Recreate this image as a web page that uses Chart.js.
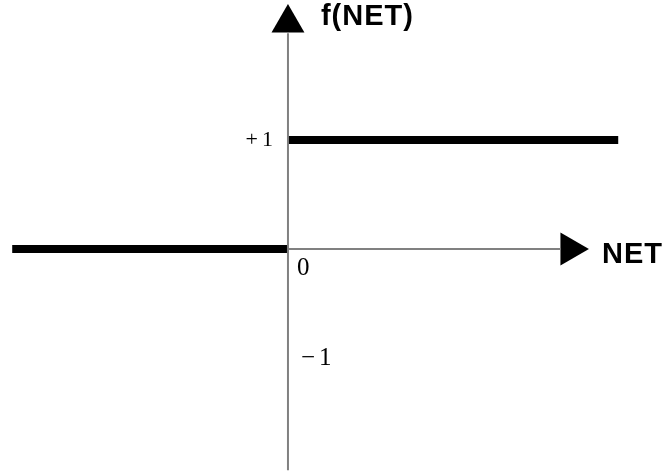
<!DOCTYPE html>
<html>
<head>
<meta charset="utf-8">
<title>f(NET) step function</title>
<script src="https://cdn.jsdelivr.net/npm/chart.js@4/dist/chart.umd.min.js"></script>
<style>
  html, body { margin: 0; padding: 0; background: #ffffff; }
  canvas { display: block; }
</style>
</head>
<body>
<canvas id="stepChart" width="664" height="473"></canvas>
<script>
/* step function f(NET): 0 for NET < 0, +1 for NET > 0 */

// ── Data (NET units on x, f(NET) on y) ───────────────────────────────────
const lowNet   = [-2.53, 0];
const lowF     = [0, 0];
const highNet  = [0, 3.03];
const highF    = [1, 1];

// axes and their arrow heads
const hAxisNet = [0, 2.50];
const hAxisF   = [0, 0];
const vAxisNet = [0, 0];
const vAxisF   = [-2.03, 1.98];
const arrowNet = [0, 2.587];
const arrowF   = [2.073, 0];
const arrowRot = [0, 90];

// tick labels on the f(NET) axis
const tickValues = [1, 0, -1];
const tickLabels = ['+1', '0', '\u22121'];
const axisNames  = ['NET', 'f(NET)'];

// visible window
const netMin = -2.642, netMax = 3.450;
const fMin   = -2.055, fMax   = 2.284;

const toPoints = (xs, ys) => xs.map((x, i) => ({ x: x, y: ys[i] }));

// ── Label plugin ─────────────────────────────────────────────────────────
const tickStyle = [
    { font: '22px "Liberation Serif"', align: 'right', dx: -11, dy: 0,  spacing: '4px' },
    { font: '25px "Liberation Serif"', align: 'left',  dx: 9,   dy: 19, spacing: '0px' },
    { font: '25px "Liberation Serif"', align: 'left',  dx: 13,  dy: 0,  spacing: '4px' }
];

const labelPlugin = {
    id: 'stepLabels',
    afterDatasetsDraw(chart) {
        const { ctx, scales: { x, y } } = chart;
        const x0 = x.getPixelForValue(0);
        const y0 = y.getPixelForValue(0);
        ctx.save();
        ctx.fillStyle = '#000000';
        ctx.textBaseline = 'middle';
        tickValues.forEach((v, i) => {
            const s = tickStyle[i];
            ctx.font = s.font;
            ctx.textAlign = s.align;
            ctx.letterSpacing = s.spacing;
            ctx.fillText(tickLabels[i], x0 + s.dx, y.getPixelForValue(v) + s.dy);
        });

        // axis names next to the arrow heads
        ctx.letterSpacing = '1px';
        ctx.font = 'bold 29px "Liberation Sans"';
        ctx.textAlign = 'left';
        ctx.textBaseline = 'alphabetic';
        ctx.fillText(axisNames[0], x.getPixelForValue(arrowNet[1]) + 32, y0 + 14);
        ctx.fillText(axisNames[1], x0 + 33, y.getPixelForValue(arrowF[0]) + 2);
        ctx.restore();
    }
};

// ── Chart ────────────────────────────────────────────────────────────────
const lineDs = (pts, color, width) => ({
    type: 'line',
    data: pts,
    borderColor: color,
    backgroundColor: color,
    borderWidth: width,
    borderCapStyle: 'butt',
    pointRadius: 0,
    tension: 0,
    fill: false
});

const ctx = document.getElementById('stepChart').getContext('2d');
const chart = new Chart(ctx, {
    type: 'scatter',
    data: {
        datasets: [
            lineDs(toPoints(hAxisNet, hAxisF), '#808080', 2),
            lineDs(toPoints(vAxisNet, vAxisF), '#808080', 2),
            lineDs(toPoints(lowNet, lowF), '#000000', 8),
            lineDs(toPoints(highNet, highF), '#000000', 8),
            {
                type: 'scatter',
                data: toPoints(arrowNet, arrowF),
                pointStyle: 'triangle',
                pointRadius: 19,
                pointRotation: arrowRot,
                backgroundColor: '#000000',
                borderColor: '#000000',
                borderWidth: 0
            }
        ]
    },
    options: {
        responsive: false,
        devicePixelRatio: 1,
        animation: false,
        events: [],
        layout: { padding: 0, autoPadding: false },
        plugins: {
            legend: { display: false },
            tooltip: { enabled: false }
        },
        scales: {
            x: { type: 'linear', min: netMin, max: netMax, display: false },
            y: { type: 'linear', min: fMin, max: fMax, display: false }
        }
    },
    plugins: [labelPlugin]
});
</script>
</body>
</html>
